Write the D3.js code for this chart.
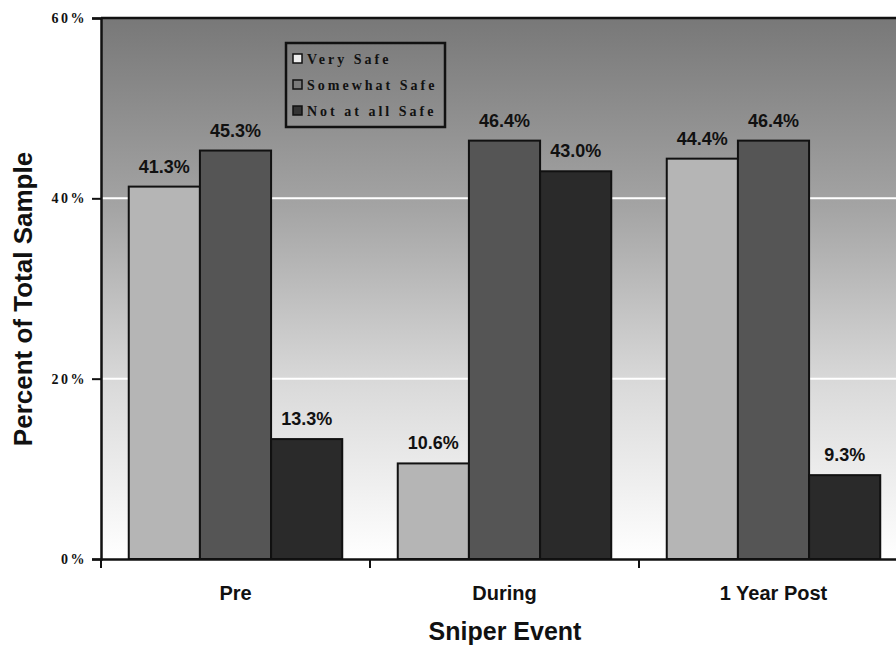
<!DOCTYPE html>
<html>
<head>
<meta charset="utf-8">
<script src="https://cdn.jsdelivr.net/npm/d3@7"></script>
<style>
  body { margin: 0; background: #fff; }
  .lbl { font-family: "Liberation Sans", Arial, sans-serif; font-weight: bold; }
  .serif { font-family: "Liberation Serif", "Times New Roman", serif; font-weight: bold; }
</style>
</head>
<body>
<div id="chart"></div>
<script>
var categories = ["Pre", "During", "1 Year Post"];
var seriesNames = ["Very Safe", "Somewhat Safe", "Not at all Safe"];
var verySafe = [41.3, 10.6, 44.4];
var somewhatSafe = [45.3, 46.4, 46.4];
var notAtAllSafe = [13.3, 43.0, 9.3];
var yTicks = [0, 20, 40, 60];

var cfg = {
    w: 896, h: 648,
    mTop: 18, mLeft: 101, plotW: 807, plotH: 541
};
var barColors = ["#b5b5b5", "#555555", "#2a2a2a"];
var legendColors = ["#eeeeee", "#7a7a7a", "#333333"];

var svg = d3.select("#chart").append("svg")
    .attr("width", cfg.w)
    .attr("height", cfg.h);

var g = svg.append("g")
    .attr("transform", "translate(" + cfg.mLeft + "," + cfg.mTop + ")");

var x = d3.scaleBand().domain(categories).range([0, cfg.plotW]);
var y = d3.scaleLinear().domain([0, 60]).range([cfg.plotH, 0]);
var xInner = d3.scaleBand().domain(seriesNames)
    .range([0, x.bandwidth()]).paddingInner(0).paddingOuter(0.39);

// background gradient
var defs = svg.append("defs");
var grad = defs.append("linearGradient").attr("id", "bg")
    .attr("x1", 0).attr("y1", 0).attr("x2", 0).attr("y2", 1);
grad.append("stop").attr("offset", "0%").attr("stop-color", "#787878");
grad.append("stop").attr("offset", "35%").attr("stop-color", "#a4a4a4");
grad.append("stop").attr("offset", "68%").attr("stop-color", "#dadada");
grad.append("stop").attr("offset", "100%").attr("stop-color", "#ffffff");

g.append("rect")
    .attr("width", cfg.plotW).attr("height", cfg.plotH)
    .attr("fill", "url(#bg)");

// gridlines
g.selectAll(".grid")
    .data(yTicks.filter(function (d) { return d > 0 && d < 60; }))
    .enter().append("line")
    .attr("x1", 0).attr("x2", cfg.plotW)
    .attr("y1", function (d) { return y(d); })
    .attr("y2", function (d) { return y(d); })
    .attr("stroke", "#ffffff").attr("stroke-width", 2);

// top border
g.append("line").attr("x1", 0).attr("x2", cfg.plotW)
    .attr("y1", y(60)).attr("y2", y(60))
    .attr("stroke", "#111").attr("stroke-width", 2.5);

// bars
var rows = categories.map(function (c, i) {
    return { cat: c, vals: [verySafe[i], somewhatSafe[i], notAtAllSafe[i]] };
});
var groups = g.selectAll(".grp").data(rows).enter().append("g")
    .attr("transform", function (d) { return "translate(" + x(d.cat) + ",0)"; });

groups.selectAll("rect")
    .data(function (d) { return d.vals.map(function (v, j) { return { s: seriesNames[j], v: v, j: j }; }); })
    .enter().append("rect")
    .attr("x", function (d) { return xInner(d.s); })
    .attr("y", function (d) { return y(d.v); })
    .attr("width", xInner.bandwidth())
    .attr("height", function (d) { return cfg.plotH - y(d.v); })
    .attr("fill", function (d) { return barColors[d.j]; })
    .attr("stroke", "#111").attr("stroke-width", 2);

groups.selectAll(".val")
    .data(function (d) { return d.vals.map(function (v, j) { return { s: seriesNames[j], v: v, j: j }; }); })
    .enter().append("text")
    .attr("class", "lbl")
    .attr("x", function (d) { return xInner(d.s) + xInner.bandwidth() / 2; })
    .attr("y", function (d) { return y(d.v) - 14; })
    .attr("text-anchor", "middle")
    .attr("font-size", 18)
    .attr("fill", "#111")
    .text(function (d) { return d.v.toFixed(1) + "%"; });

// y axis
var yAxis = d3.axisLeft(y).tickValues(yTicks).tickSize(9)
    .tickFormat(function (d) { return d + "%"; });
g.append("g").call(function (ax) {
    ax.call(yAxis);
    ax.select(".domain").attr("stroke", "#111").attr("stroke-width", 2.5);
    ax.selectAll(".tick line").attr("stroke", "#111").attr("stroke-width", 2);
    ax.selectAll(".tick text").attr("class", "serif")
        .attr("font-size", 14).attr("fill", "#111")
        .attr("x", -14).style("letter-spacing", "2.5px");
});

// x axis
var xAxis = d3.axisBottom(x).tickSize(0);
g.append("g").attr("transform", "translate(0," + cfg.plotH + ")").call(function (ax) {
    ax.call(xAxis);
    ax.select(".domain").attr("stroke", "#111").attr("stroke-width", 2.5);
    ax.selectAll(".tick text").attr("class", "lbl")
        .attr("font-size", 20).attr("fill", "#111").attr("dy", 0).attr("y", 41);
    ax.selectAll(".sep").data(categories).enter().append("line")
        .attr("x1", function (d) { return x(d); }).attr("x2", function (d) { return x(d); })
        .attr("y1", 0).attr("y2", 9)
        .attr("stroke", "#111").attr("stroke-width", 2);
});

// axis titles
svg.append("text").attr("class", "lbl")
    .attr("transform", "translate(32,299) rotate(-90)")
    .attr("text-anchor", "middle").attr("font-size", 26).attr("fill", "#111")
    .text("Percent of Total Sample");

svg.append("text").attr("class", "lbl")
    .attr("x", 505).attr("y", 640)
    .attr("text-anchor", "middle").attr("font-size", 25).attr("fill", "#111")
    .text("Sniper Event");

// legend
var legend = svg.append("g").attr("transform", "translate(286,43)");
legend.append("rect").attr("width", 159).attr("height", 84)
    .attr("fill", "none").attr("stroke", "#111").attr("stroke-width", 2.5);
var li = legend.selectAll(".li").data(seriesNames).enter().append("g")
    .attr("transform", function (d, i) { return "translate(7," + (11 + i * 26) + ")"; });
li.append("rect").attr("width", 9).attr("height", 9)
    .attr("fill", function (d, i) { return legendColors[i]; })
    .attr("stroke", "#111").attr("stroke-width", 1.5);
li.append("text").attr("class", "serif")
    .attr("x", 14).attr("y", 9.5).attr("font-size", 14).attr("fill", "#111")
    .style("letter-spacing", "3px")
    .text(function (d) { return d; });
</script>
</body>
</html>
